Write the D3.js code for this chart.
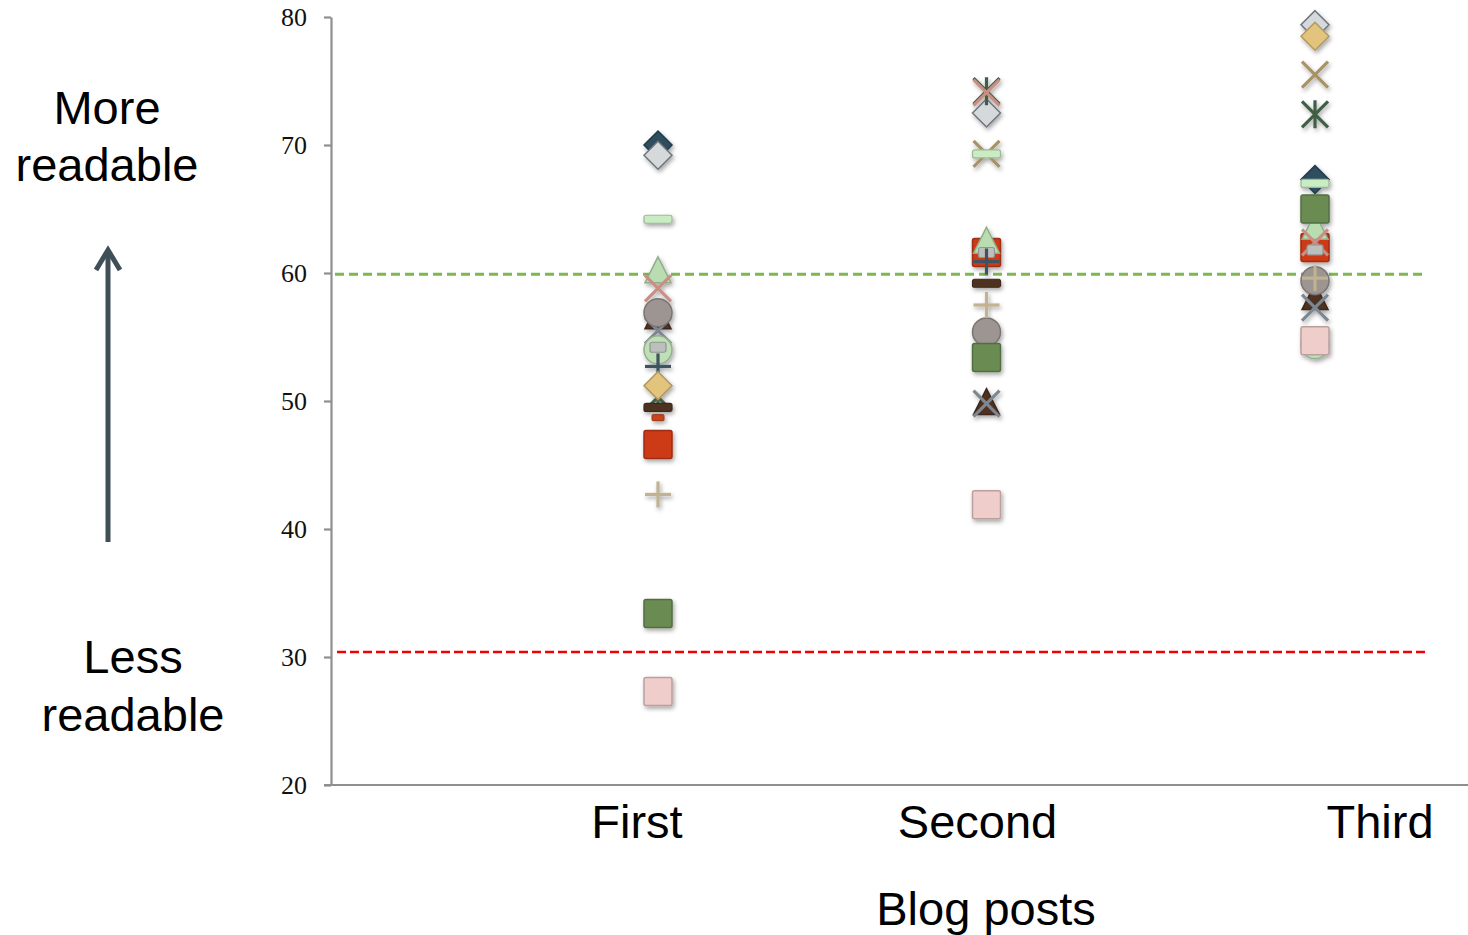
<!DOCTYPE html>
<html>
<head>
<meta charset="utf-8">
<script src="https://cdn.jsdelivr.net/npm/d3@7"></script>
<style>
  body { margin: 0; background: #fff; }
  svg { display: block; }
</style>
</head>
<body>
<div id="chart"></div>
<script>
// categories
const posts = ["First", "Second", "Third"];
const yTicks = [20, 30, 40, 50, 60, 70, 80];

// one value per post, null = no marker (drawing order = series order)
const darkBlueDiamond  = [70.0, null, 67.3];
const grayDiamond      = [69.2, 72.5, 79.4];
const tanCross         = [null, 69.3, 75.5];
const lightGreenDash   = [64.2, 69.3, 67.0];
const brownTriangle    = [56.5, 49.8, 58.0];
const grayCross        = [55.5, 49.8, 57.3];
const redSquare        = [46.6, 61.6, 62.0];
const greenTriangle    = [60.1, 62.4, 63.5];
const greenStar        = [50.3, 74.2, 72.4];
const salmonCross      = [58.8, 74.1, 62.4];
const grayCircle       = [56.9, 55.4, 59.4];
const tanPlus          = [42.7, 57.5, 59.6];
const greenCircle      = [54.0, null, 54.4];
const grayDash         = [54.2, 61.6, 61.8];
const slatePlus        = [52.7, 60.9, null];
const tanDiamond       = [51.2, null, 78.5];
const brownDash        = [49.5, 59.2, null];
const smallRedDash     = [48.7, null, null];
const greenSquare      = [33.4, 53.4, 65.0];
const pinkSquare       = [27.3, 41.9, 54.7];

// reference lines
const easyLine = 59.9;
const hardLine = 30.4;

const series = [
  {values: darkBlueDiamond, shape: "diamond",  fill: "#2e4d5e"},
  {values: grayDiamond,     shape: "diamond",  fill: "#d5d9dc", stroke: "#6f767c"},
  {values: tanCross,        shape: "cross",    fill: "#a89366"},
  {values: lightGreenDash,  shape: "dash",     fill: "#c9ecc2"},
  {values: brownTriangle,   shape: "triangle", fill: "#4e3322"},
  {values: grayCross,       shape: "cross",    fill: "#7b8792"},
  {values: redSquare,       shape: "square",   fill: "#cc3a18"},
  {values: greenTriangle,   shape: "triangle", fill: "#b9ddb0"},
  {values: greenStar,       shape: "star",     fill: "#3f5e45"},
  {values: salmonCross,     shape: "cross",    fill: "#c98e84"},
  {values: grayCircle,      shape: "circle",   fill: "#9c9592"},
  {values: tanPlus,         shape: "plus",     fill: "#c2b290"},
  {values: greenCircle,     shape: "circle",   fill: "#bfe0b6"},
  {values: grayDash,        shape: "smalldash", fill: "#bcbfbb"},
  {values: slatePlus,       shape: "plus",     fill: "#3f5261"},
  {values: tanDiamond,      shape: "diamond",  fill: "#e3c47d"},
  {values: brownDash,       shape: "dash",     fill: "#4e3322"},
  {values: smallRedDash,    shape: "tinydash", fill: "#c8441e"},
  {values: greenSquare,     shape: "square",   fill: "#6b8c52"},
  {values: pinkSquare,      shape: "square",   fill: "#efcdca"}
];

const W = 1468, H = 935;

const svg = d3.select("#chart")
    .append("svg")
    .attr("width", W)
    .attr("height", H);

// soft shadow under markers
const defs = svg.append("defs");
defs.append("filter")
    .attr("id", "shadow")
    .attr("x", "-50%").attr("y", "-50%")
    .attr("width", "200%").attr("height", "200%")
    .append("feDropShadow")
    .attr("dx", 1.5).attr("dy", 2.5)
    .attr("stdDeviation", 2)
    .attr("flood-color", "#000")
    .attr("flood-opacity", 0.35);

const x = d3.scalePoint()
    .domain(posts)
    .range([658, 1315]);

const y = d3.scaleLinear()
    .domain([20, 80])
    .range([785, 17]);

// y axis
const yAxis = svg.append("g")
    .attr("transform", "translate(331,0)")
    .call(d3.axisLeft(y).tickValues(yTicks).tickSize(7).tickPadding(17).tickSizeOuter(0));
yAxis.select(".domain").attr("stroke", "#8f8f8f").attr("stroke-width", 2.2);
yAxis.selectAll(".tick line").attr("stroke", "#8f8f8f").attr("stroke-width", 2.2);
yAxis.selectAll(".tick text")
    .style("font-family", "'Liberation Serif', 'Times New Roman', serif")
    .style("font-size", "26px")
    .attr("fill", "#111");

// x axis line
svg.append("line")
    .attr("x1", 324).attr("x2", W)
    .attr("y1", y(20)).attr("y2", y(20))
    .attr("stroke", "#8f8f8f")
    .attr("stroke-width", 2.2);

// category labels (offset as in the original slide)
const labelShift = {First: -21, Second: -9, Third: 65};
svg.append("g").selectAll("text")
    .data(posts)
    .enter().append("text")
    .attr("x", d => x(d) + labelShift[d])
    .attr("y", 838)
    .attr("text-anchor", "middle")
    .style("font-family", "'Liberation Sans', Arial, sans-serif")
    .style("font-size", "47px")
    .text(d => d);

svg.append("text")
    .attr("x", 986).attr("y", 925)
    .attr("text-anchor", "middle")
    .style("font-family", "'Liberation Sans', Arial, sans-serif")
    .style("font-size", "47px")
    .text("Blog posts");

// reference lines
svg.append("line")
    .attr("x1", 335).attr("x2", 1425)
    .attr("y1", y(easyLine)).attr("y2", y(easyLine))
    .attr("stroke", "#7ab94f")
    .attr("stroke-width", 3)
    .attr("stroke-dasharray", "9,5");

svg.append("line")
    .attr("x1", 337).attr("x2", 1425)
    .attr("y1", y(hardLine)).attr("y2", y(hardLine))
    .attr("stroke", "#f20000")
    .attr("stroke-width", 2.5)
    .attr("stroke-dasharray", "9,4");

// left side annotation
const side = svg.append("g")
    .style("font-family", "'Liberation Sans', Arial, sans-serif")
    .style("font-size", "47px")
    .attr("text-anchor", "middle");
side.append("text").attr("x", 107).attr("y", 124).text("More");
side.append("text").attr("x", 107).attr("y", 181).text("readable");
side.append("text").attr("x", 133).attr("y", 673).text("Less");
side.append("text").attr("x", 133).attr("y", 731).text("readable");

svg.append("line")
    .attr("x1", 108).attr("x2", 108)
    .attr("y1", 542).attr("y2", 252)
    .attr("stroke", "#3f4f57")
    .attr("stroke-width", 5);
svg.append("path")
    .attr("d", "M96,270 L108,250 L120,270")
    .attr("fill", "none")
    .attr("stroke", "#3f4f57")
    .attr("stroke-width", 5);

// marker painter
function drawMarker(g, shape, fill, stroke) {
    const edge = stroke || d3.color(fill).darker(0.7).formatHex();
    if (shape === "diamond") {
        g.append("path").attr("d", "M0,-14L14,0L0,14L-14,0Z")
            .attr("fill", fill).attr("stroke", edge).attr("stroke-width", 1.5);
    } else if (shape === "square") {
        g.append("rect").attr("x", -14).attr("y", -14).attr("width", 28).attr("height", 28)
            .attr("rx", 2).attr("fill", fill).attr("stroke", edge).attr("stroke-width", 1.5);
    } else if (shape === "triangle") {
        g.append("path").attr("d", "M0,-15L13,11L-13,11Z")
            .attr("fill", fill).attr("stroke", edge).attr("stroke-width", 1.5);
    } else if (shape === "circle") {
        g.append("circle").attr("r", 14)
            .attr("fill", fill).attr("stroke", edge).attr("stroke-width", 1.5);
    } else if (shape === "dash") {
        g.append("rect").attr("x", -14).attr("y", -4).attr("width", 28).attr("height", 8)
            .attr("rx", 2).attr("fill", fill).attr("stroke", edge).attr("stroke-width", 1.2);
    } else if (shape === "smalldash") {
        g.append("rect").attr("x", -8).attr("y", -5).attr("width", 16).attr("height", 10)
            .attr("rx", 2).attr("fill", fill).attr("stroke", edge).attr("stroke-width", 1.2);
    } else if (shape === "tinydash") {
        g.append("rect").attr("x", -6).attr("y", -3).attr("width", 12).attr("height", 6)
            .attr("rx", 1).attr("fill", fill).attr("stroke", edge).attr("stroke-width", 1);
    } else {
        const segs = [];
        if (shape === "cross" || shape === "star") segs.push([-13, -13, 13, 13], [-13, 13, 13, -13]);
        if (shape === "plus") segs.push([-13, 0, 13, 0], [0, -13, 0, 13]);
        if (shape === "star") segs.push([0, -14, 0, 14]);
        g.selectAll("line").data(segs).enter().append("line")
            .attr("x1", s => s[0]).attr("y1", s => s[1])
            .attr("x2", s => s[2]).attr("y2", s => s[3])
            .attr("stroke", fill)
            .attr("stroke-width", 3.2)
            .attr("stroke-linecap", "butt");
    }
}

const markers = svg.append("g").attr("filter", "url(#shadow)");

series.forEach(function (s) {
    const pts = posts
        .map((p, i) => ({post: p, value: s.values[i]}))
        .filter(d => d.value !== null);
    markers.append("g")
        .selectAll("g")
        .data(pts)
        .enter().append("g")
        .attr("transform", d => `translate(${x(d.post)},${y(d.value)})`)
        .each(function () {
            drawMarker(d3.select(this), s.shape, s.fill, s.stroke);
        });
});
</script>
</body>
</html>
